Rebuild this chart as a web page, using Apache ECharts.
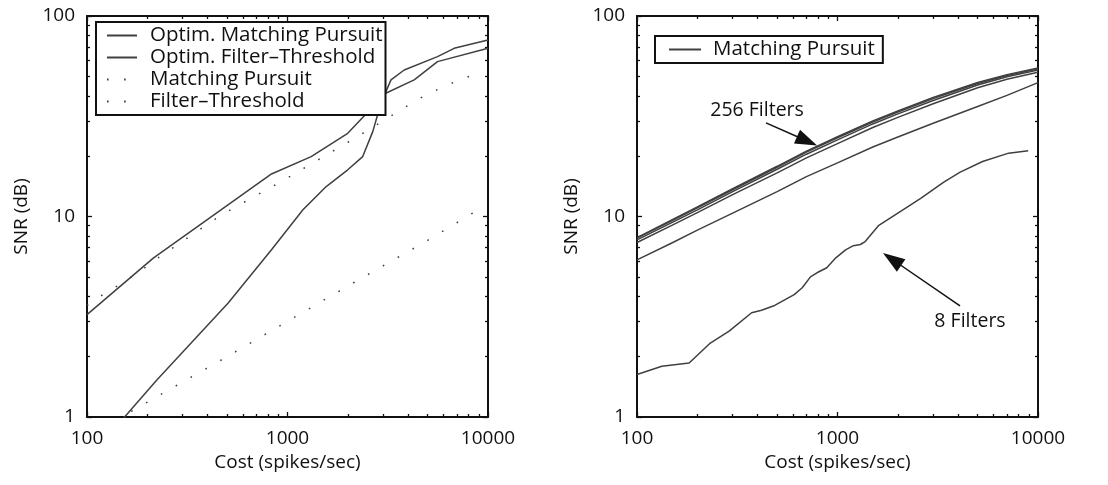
<!DOCTYPE html>
<html>
<head>
<meta charset="utf-8">
<script src="https://cdn.jsdelivr.net/npm/echarts@6/dist/echarts.min.js"></script>
<style>
  html, body { margin: 0; padding: 0; background: #fff; }
  #chart { width: 1108px; height: 485px; }
</style>
</head>
<body>
<div id="chart"></div>
<script>
// ---- Left panel: SNR (dB) against cost (spikes/sec) ----
const optimMatchingPursuit = [[100, 3.24], [214, 6.2], [832, 16.3], [1312, 19.9], [1997, 26.0], [3090, 41.2], [4285, 48.0], [5600, 59.2], [10000, 69.0]];
const optimFilterThreshold = [[100, 0.6], [154, 1.0], [223, 1.53], [506, 3.7], [832, 6.82], [1194, 10.8], [1560, 14.1], [1997, 17.1], [2372, 19.9], [2662, 26.5], [2924, 36.7], [3282, 48.0], [3819, 53.8], [5600, 62.7], [6776, 69.0], [10000, 75.9]];
const matchingPursuit = [[100, 3.6], [114, 3.95], [136, 4.39], [184, 5.32], [219, 6.08], [469, 10.2], [961, 15.2], [1837, 22.3], [2560, 27.2], [3041, 30.3], [4285, 37.4], [5093, 41.2], [7180, 48.0], [8800, 51.5]];
const filterThreshold = [[100, 0.79], [181, 1.12], [500, 2.0], [1000, 3.0], [2000, 4.5], [5000, 7.6], [8800, 10.7]];

// ---- Right panel: matching pursuit with different filter-bank sizes ----
const costGrid = [100, 150, 200, 300, 500, 700, 1000, 1500, 2000, 3000, 5000, 7000, 10000];
const filters256 = [7.85, 9.65, 11.15, 13.75, 17.8, 21.2, 25.0, 30.0, 33.6, 39.2, 46.6, 51.0, 55.0];
const filters128 = [7.8, 9.55, 11.05, 13.6, 17.6, 20.95, 24.7, 29.6, 33.2, 38.7, 46.1, 50.5, 54.4];
const filters64 = [7.65, 9.35, 10.8, 13.3, 17.2, 20.45, 24.1, 28.95, 32.5, 37.9, 45.3, 49.8, 53.7];
const filters32 = [7.42, 9.05, 10.45, 12.85, 16.5, 19.6, 23.1, 27.8, 31.2, 36.5, 43.9, 48.4, 52.4];
const filters16 = [6.08, 7.4, 8.55, 10.4, 13.3, 15.8, 18.5, 22.2, 24.9, 29.2, 35.4, 40.2, 46.5];
const filters8 = [[100, 1.63], [133, 1.79], [182, 1.86], [230, 2.32], [288, 2.68], [373, 3.31], [418, 3.41], [486, 3.6], [608, 4.08], [667, 4.41], [733, 5.0], [790, 5.24], [884, 5.55], [981, 6.22], [1097, 6.81], [1200, 7.15], [1300, 7.25], [1374, 7.5], [1600, 9.0], [2000, 10.4], [2600, 12.3], [3375, 14.8], [4070, 16.6], [5290, 18.8], [7140, 20.7], [8935, 21.3]];

// Axis ranges and labels
const costRange = [100, 10000];
const snrRange = [1, 100];
const xTitle = 'Cost (spikes/sec)';
const yTitle = 'SNR (dB)';

const FONT = "'Open Sans', 'DejaVu Sans', sans-serif";
const INK = '#111';
const LINE = '#404040';
const DOTS = [1.6, 15.5];

// minor tick positions (2..9 within each decade), in log10 units
function minorLogTicks(lo, hi) {
  const out = [];
  for (let d = lo; d < hi; d++) for (let k = 2; k <= 9; k++) out.push(d + Math.log10(k));
  return out;
}
const costMinor = minorLogTicks(2, 4);
const snrMinor = minorLogTicks(0, 2);

const tickLine = { color: INK, width: 1.3 };
const labelFmt = v => String(Math.round(v));

function xAxesFor(g) {
  return [
    { type: 'log', gridIndex: g, min: costRange[0], max: costRange[1], position: 'bottom',
      axisLine: { show: true, lineStyle: { color: INK, width: 2 } },
      axisTick: { show: true, inside: true, length: 5, lineStyle: tickLine },
      axisLabel: { formatter: labelFmt, margin: 12, color: INK, fontSize: 19, fontFamily: FONT },
      splitLine: { show: false },
      name: xTitle, nameLocation: 'middle', nameGap: 33,
      nameTextStyle: { color: INK, fontSize: 19, fontFamily: FONT } },
    { type: 'value', gridIndex: g, min: 2, max: 4, position: 'bottom',
      axisLine: { show: false }, axisLabel: { show: false }, splitLine: { show: false },
      axisTick: { show: true, inside: true, length: 3, customValues: costMinor, lineStyle: tickLine } },
    { type: 'log', gridIndex: g, min: costRange[0], max: costRange[1], position: 'top',
      axisLine: { show: true, lineStyle: { color: INK, width: 2 } },
      axisTick: { show: true, inside: true, length: 5, lineStyle: tickLine },
      axisLabel: { show: false }, splitLine: { show: false } },
    { type: 'value', gridIndex: g, min: 2, max: 4, position: 'top',
      axisLine: { show: false }, axisLabel: { show: false }, splitLine: { show: false },
      axisTick: { show: true, inside: true, length: 3, customValues: costMinor, lineStyle: tickLine } }
  ];
}
function yAxesFor(g) {
  return [
    { type: 'log', gridIndex: g, min: snrRange[0], max: snrRange[1], position: 'left',
      axisLine: { show: true, lineStyle: { color: INK, width: 2 } },
      axisTick: { show: true, inside: true, length: 5, lineStyle: tickLine },
      axisLabel: { formatter: labelFmt, margin: 12, color: INK, fontSize: 19, fontFamily: FONT },
      splitLine: { show: false },
      name: yTitle, nameLocation: 'middle', nameGap: 56,
      nameTextStyle: { color: INK, fontSize: 19, fontFamily: FONT } },
    { type: 'value', gridIndex: g, min: 0, max: 2, position: 'left',
      axisLine: { show: false }, axisLabel: { show: false }, splitLine: { show: false },
      axisTick: { show: true, inside: true, length: 3, customValues: snrMinor, lineStyle: tickLine } },
    { type: 'log', gridIndex: g, min: snrRange[0], max: snrRange[1], position: 'right',
      axisLine: { show: true, lineStyle: { color: INK, width: 2 } },
      axisTick: { show: true, inside: true, length: 5, lineStyle: tickLine },
      axisLabel: { show: false }, splitLine: { show: false } },
    { type: 'value', gridIndex: g, min: 0, max: 2, position: 'right',
      axisLine: { show: false }, axisLabel: { show: false }, splitLine: { show: false },
      axisTick: { show: true, inside: true, length: 3, customValues: snrMinor, lineStyle: tickLine } }
  ];
}

function lineSeries(name, data, g, dotted, extra) {
  return Object.assign({
    type: 'line', name: name, data: data,
    xAxisIndex: g * 4, yAxisIndex: g * 4,
    symbol: 'none', showSymbol: false, smooth: false, clip: true,
    lineStyle: { color: LINE, width: 1.5, type: dotted ? DOTS : 'solid', cap: 'butt' },
    itemStyle: { color: LINE },
    emphasis: { disabled: true }, silent: true, animation: false
  }, extra || {});
}

const zip = vals => costGrid.map((c, i) => [c, vals[i]]);

const arrowStyle = {
  silent: true, animation: false,
  symbol: ['none', 'triangle'], symbolSize: [15, 22],
  lineStyle: { color: INK, width: 1.5, type: 'solid' },
  itemStyle: { color: INK },
  label: { show: false }, emphasis: { disabled: true }
};
function textMark(coord, text) {
  return { coord: coord, symbol: 'circle', symbolSize: 0, itemStyle: { color: 'transparent' },
    label: { show: true, position: 'inside', formatter: text, color: INK, fontSize: 19.5, fontFamily: FONT } };
}

// legend boxes: line samples only, no marker in the middle
const legendBase = {
  orient: 'vertical', selectedMode: false, itemGap: 1, itemHeight: 14,
  backgroundColor: '#fff', borderColor: INK, borderWidth: 2, borderRadius: 0,
  itemStyle: { opacity: 0, borderWidth: 0 }
};

const option = {
  backgroundColor: '#fff',
  animation: false,
  grid: [
    { left: 87, top: 16, width: 401, height: 401, outerBoundsMode: 'none' },
    { left: 637, top: 16, width: 401, height: 401, outerBoundsMode: 'none' }
  ],
  xAxis: xAxesFor(0).concat(xAxesFor(1)),
  yAxis: yAxesFor(0).concat(yAxesFor(1)),
  legend: [
    Object.assign({}, legendBase, {
      left: 96, top: 22, padding: [3, 3, 3, 10], itemWidth: 30,
      textStyle: { color: INK, fontSize: 20.5, lineHeight: 20, fontFamily: FONT, padding: [0, 0, 0, 8] },
      data: ['Optim. Matching Pursuit', 'Optim. Filter\u2013Threshold', 'Matching Pursuit', 'Filter\u2013Threshold'] }),
    Object.assign({}, legendBase, {
      left: 655, top: 36, padding: [3, 8, 3, 13], itemWidth: 32,
      textStyle: { color: INK, fontSize: 20.5, lineHeight: 20, fontFamily: FONT, padding: [0, 0, 0, 7] },
      data: [{ name: 'Matching Pursuit', lineStyle: { type: 'solid' } }] })
  ],
  series: [
    lineSeries('Optim. Matching Pursuit', optimMatchingPursuit, 0, false),
    lineSeries('Optim. Filter\u2013Threshold', optimFilterThreshold, 0, false),
    lineSeries('Matching Pursuit', matchingPursuit, 0, true),
    lineSeries('Filter\u2013Threshold', filterThreshold, 0, true),

    lineSeries('Matching Pursuit', zip(filters256), 1, false, {
      markLine: Object.assign({ data: [[{ coord: [440, 29.3] }, { coord: [705, 23.8] }]] }, arrowStyle),
      markPoint: { silent: true, animation: false, data: [textMark([397, 34.0], '256 Filters')] }
    }),
    lineSeries('Matching Pursuit', zip(filters128), 1, false),
    lineSeries('Matching Pursuit', zip(filters64), 1, false),
    lineSeries('Matching Pursuit', zip(filters32), 1, false),
    lineSeries('Matching Pursuit', zip(filters16), 1, false),
    lineSeries('Matching Pursuit', filters8, 1, false, {
      markLine: Object.assign({ data: [[{ coord: [4083, 3.58] }, { coord: [1871, 6.12] }]] }, arrowStyle),
      markPoint: { silent: true, animation: false, data: [textMark([4580, 3.01], '8 Filters')] }
    })
  ]
};

const chart = echarts.init(document.getElementById('chart'), null, { renderer: 'canvas' });
chart.setOption(option);
</script>
</body>
</html>
